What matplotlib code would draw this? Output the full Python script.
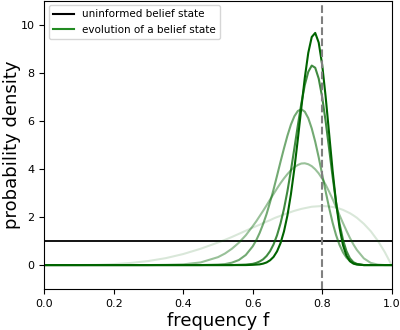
import matplotlib
matplotlib.use("Agg")
import matplotlib.pyplot as plt
from matplotlib.lines import Line2D

# frequency grid (denser where the curves move fast)
f = [0.0, 0.05, 0.1, 0.15, 0.2, 0.25, 0.3, 0.35, 0.4, 0.45, 0.5, 0.52, 0.54, 0.56, 0.58,
     0.6, 0.61, 0.62, 0.63, 0.64, 0.65, 0.66, 0.67, 0.68, 0.69, 0.7, 0.71, 0.72, 0.73, 0.74,
     0.75, 0.76, 0.77, 0.78, 0.79, 0.8, 0.81, 0.82, 0.83, 0.84, 0.85, 0.86, 0.87, 0.88, 0.89,
     0.9, 0.92, 0.94, 0.96, 0.98, 1.0]

uniform = [1.0] * len(f)

# belief states, lightest (early) to darkest (late)
belief_1 = [0.0, 0.0, 0.0, 0.01, 0.04, 0.09, 0.17, 0.29, 0.46, 0.68, 0.94, 1.05, 1.17, 1.3, 1.43,
            1.56, 1.62, 1.68, 1.75, 1.81, 1.87, 1.94, 2.0, 2.05, 2.11, 2.16, 2.21, 2.26, 2.3, 2.34,
            2.37, 2.4, 2.43, 2.44, 2.45, 2.46, 2.45, 2.44, 2.42, 2.39, 2.35, 2.3, 2.23, 2.16, 2.07,
            1.97, 1.72, 1.41, 1.02, 0.55, 0.0]
belief_2 = [0.0, 0.0, 0.0, 0.0, 0.0, 0.0, 0.0, 0.01, 0.03, 0.11, 0.33, 0.48, 0.68, 0.93, 1.24,
            1.62, 1.82, 2.04, 2.26, 2.49, 2.73, 2.96, 3.19, 3.41, 3.61, 3.79, 3.95, 4.08, 4.17, 4.23,
            4.24, 4.2, 4.12, 3.99, 3.82, 3.6, 3.35, 3.06, 2.75, 2.42, 2.08, 1.75, 1.43, 1.13, 0.86,
            0.63, 0.28, 0.09, 0.02, 0.0, 0.0]
belief_3 = [0.0, 0.0, 0.0, 0.0, 0.0, 0.0, 0.0, 0.0, 0.0, 0.0, 0.02, 0.04, 0.1, 0.21, 0.42,
            0.78, 1.03, 1.34, 1.71, 2.13, 2.62, 3.15, 3.72, 4.3, 4.86, 5.39, 5.85, 6.2, 6.42, 6.49,
            6.39, 6.12, 5.69, 5.14, 4.49, 3.78, 3.07, 2.39, 1.77, 1.25, 0.84, 0.53, 0.31, 0.17, 0.08,
            0.04, 0.0, 0.0, 0.0, 0.0, 0.0]
belief_4 = [0.0, 0.0, 0.0, 0.0, 0.0, 0.0, 0.0, 0.0, 0.0, 0.0, 0.0, 0.0, 0.0, 0.01, 0.02,
            0.05, 0.09, 0.15, 0.24, 0.38, 0.58, 0.86, 1.24, 1.73, 2.34, 3.08, 3.94, 4.87, 5.82, 6.73,
            7.5, 8.05, 8.31, 8.22, 7.77, 7.0, 5.99, 4.85, 3.69, 2.62, 1.73, 1.05, 0.58, 0.28, 0.12,
            0.05, 0.0, 0.0, 0.0, 0.0, 0.0]
belief_5 = [0.0, 0.0, 0.0, 0.0, 0.0, 0.0, 0.0, 0.0, 0.0, 0.0, 0.0, 0.0, 0.0, 0.0, 0.0,
            0.01, 0.02, 0.03, 0.06, 0.11, 0.2, 0.34, 0.57, 0.91, 1.4, 2.07, 2.95, 4.02, 5.25, 6.55,
            7.8, 8.84, 9.5, 9.67, 9.27, 8.35, 7.02, 5.49, 3.95, 2.61, 1.56, 0.83, 0.39, 0.16, 0.06,
            0.02, 0.0, 0.0, 0.0, 0.0, 0.0]

true_f = 0.8

fig = plt.figure(figsize=(4, 3.3), dpi=100)
ax = fig.add_axes([0.111, 0.124, 0.868, 0.873])

ax.plot(f, uniform, color="black", lw=1.3)
alphas = [0.15, 0.4, 0.55, 0.75, 1.0]
for ys, a in zip([belief_1, belief_2, belief_3, belief_4, belief_5], alphas):
    ax.plot(f, ys, color="darkgreen", alpha=a, lw=1.5)
ax.axvline(true_f, color="gray", ls="--", lw=1.5)

ax.set_xlim(0, 1)
ax.set_ylim(-1, 11)
ax.set_xticks([0, 0.2, 0.4, 0.6, 0.8, 1.0])
ax.set_yticks([0, 2, 4, 6, 8, 10])
ax.tick_params(labelsize=8)
ax.set_xlabel("frequency f", fontsize=13, labelpad=2)
ax.set_ylabel("probability density", fontsize=13, labelpad=0)

handles = [Line2D([], [], color="black", lw=1.5), Line2D([], [], color="forestgreen", lw=1.5)]
ax.legend(handles, ["uninformed belief state", "evolution of a belief state"],
          loc="upper left", fontsize=7.5, borderaxespad=0.4)

fig.savefig("out.png", dpi=100)
